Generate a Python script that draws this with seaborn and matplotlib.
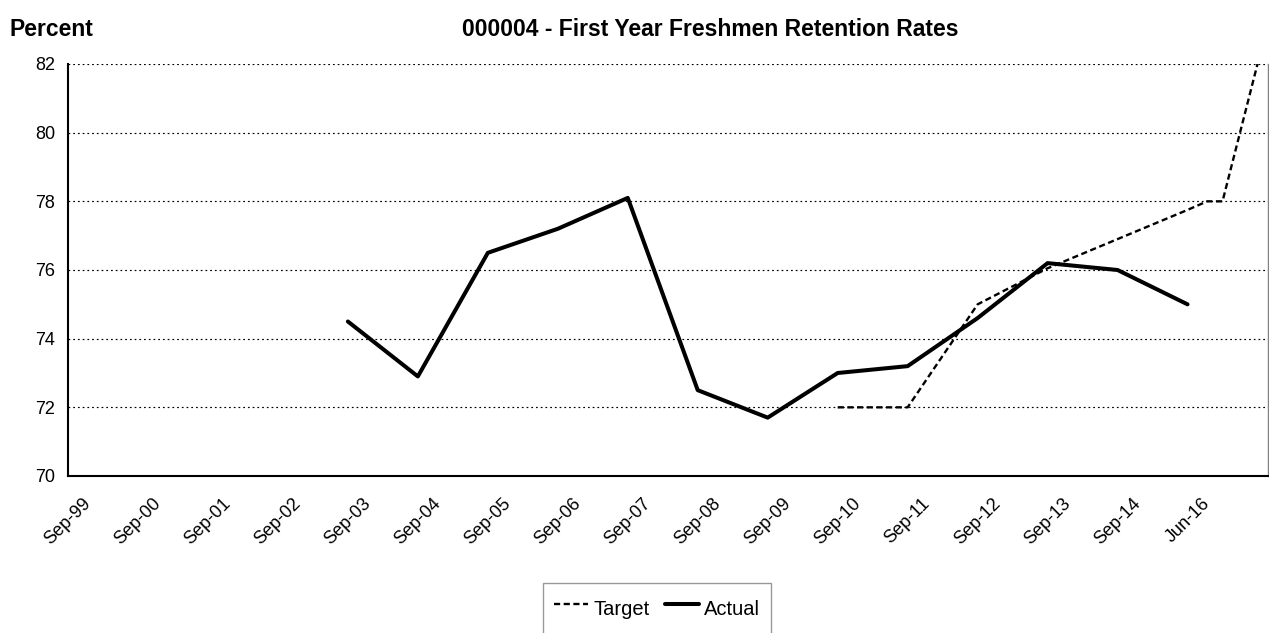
import numpy as np
import pandas as pd
import matplotlib
matplotlib.use("Agg")
import matplotlib.pyplot as plt
import seaborn as sns

# ---- data ----
categories = ["Sep-99", "Sep-00", "Sep-01", "Sep-02", "Sep-03", "Sep-04", "Sep-05",
              "Sep-06", "Sep-07", "Sep-08", "Sep-09", "Sep-10", "Sep-11", "Sep-12",
              "Sep-13", "Sep-14", "Jun-16"]
actual = [np.nan, np.nan, np.nan, np.nan, 74.5, 72.9, 76.5, 77.2, 78.1, 72.5, 71.7,
          73.0, 73.2, 74.6, 76.2, 76.0, 75.0]
target_pos = [11, 12, 13, 14, 15, 16, 16.28, 16.5, 17]
target = [72.0, 72.0, 75.0, 76.05, 76.9, 77.75, 78.0, 78.0, 82.0]
yticks = [70, 72, 74, 76, 78, 80, 82]
title = "000004 - First Year Freshmen Retention Rates"
ylabel = "Percent"

df_actual = pd.DataFrame({"pos": np.arange(len(categories)), "value": actual}).dropna()
df_target = pd.DataFrame({"pos": target_pos, "value": target})

sns.set_style("white")
plt.rcParams["font.family"] = ["Liberation Sans", "DejaVu Sans"]
plt.rcParams["text.color"] = "black"
plt.rcParams["xtick.color"] = "black"
plt.rcParams["ytick.color"] = "black"
plt.rcParams["axes.labelcolor"] = "black"

W, H = 1269, 633
fig = plt.figure(figsize=(W / 100, H / 100), dpi=100)
ax = fig.add_axes([68 / W, 157 / H, 1200 / W, 412 / H])

sns.lineplot(data=df_target, x="pos", y="value", ax=ax, color="black",
             linewidth=1.7, dashes=False, label="Target")
ax.lines[-1].set_dashes((2.6, 1.5))
sns.lineplot(data=df_actual, x="pos", y="value", ax=ax, color="black",
             linewidth=2.9, label="Actual")

ax.set_xlim(0.11, 17.15)
ax.set_ylim(70, 82)
ax.set_xticks(range(len(categories)))
ax.set_xticklabels(categories, rotation=45, ha="center", va="top", fontsize=13)
ax.set_yticks(yticks)
ax.set_yticklabels([str(v) for v in yticks], fontsize=13)
ax.tick_params(axis="x", length=0, pad=13.5)
ax.tick_params(axis="y", length=0, pad=9.4)
ax.set_xlabel("")
ax.set_ylabel("")

ax.yaxis.grid(True, color="black", linestyle=(0, (1.5, 2.5)), linewidth=0.85)
ax.xaxis.grid(False)
ax.set_axisbelow(True)

ax.spines["top"].set_visible(False)
ax.spines["right"].set_color("#808080")
ax.spines["right"].set_linewidth(1.0)
for s in ("left", "bottom"):
    ax.spines[s].set_color("black")
    ax.spines[s].set_linewidth(1.5)

handles, labels = ax.get_legend_handles_labels()
leg = ax.legend(handles, labels, loc="upper left",
                bbox_to_anchor=(543 / W, 1 - 583 / H), bbox_transform=fig.transFigure,
                ncol=2, frameon=True, fancybox=False, edgecolor="#808080",
                borderpad=0.55, borderaxespad=0, handlelength=1.7, handleheight=1.8,
                handletextpad=0.25, columnspacing=0.75, fontsize=14.5)
leg.get_frame().set_linewidth(1.0)

fig.text(710 / W, 1 - 30 / H, title, ha="center", va="center",
         fontsize=16.5, fontweight="bold")
fig.text(10 / W, 1 - 30 / H, ylabel, ha="left", va="center",
         fontsize=16.5, fontweight="bold")

fig.savefig("out.png", dpi=100)
